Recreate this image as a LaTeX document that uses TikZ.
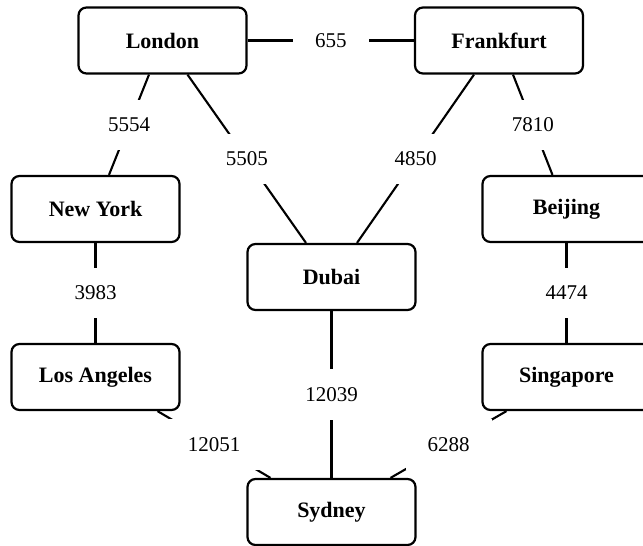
\documentclass[tikz,border=0pt]{standalone}
\usepackage{fontspec}
\setmainfont{Liberation Serif}
\begin{document}
\begin{tikzpicture}[x=0.5pt,y=-0.5pt,
  city/.style={draw, line width=1.1pt, rounded corners=4pt, minimum width=84pt, minimum height=33pt, font=\fontsize{11}{13}\selectfont\bfseries, fill=white},
  lbl/.style={fill=white, inner xsep=11pt, inner ysep=9pt, font=\fontsize{10.5}{12}\selectfont},
  edge/.style={line width=1.05pt}]
\useasboundingbox (0,0) rectangle (643,546);
\begin{scope}
\clip (0,0) rectangle (643,546);
\node[city] (lon) at (162.5,40.5) {London};
\node[city] (fra) at (499,40.5) {Frankfurt};
\node[city] (ny) at (95.5,209) {New York};
\node[city] (bei) at (566.5,209) {Beijing};
\node[city] (dub) at (331.5,277) {Dubai};
\node[city] (la) at (95.5,377) {Los Angeles};
\node[city] (sin) at (566.5,377) {Singapore};
\node[city] (syd) at (331.5,512) {Sydney};

\draw[edge] (lon.east) -- node[lbl]{655} (fra.west);
\draw[edge] ([xshift=-6.75pt]lon.south) -- node[lbl]{5554} ([xshift=6.75pt]ny.north);
\draw[edge] ([xshift=12.5pt]lon.south) -- node[lbl]{5505} ([xshift=-12.75pt]dub.north);
\draw[edge] ([xshift=-12.5pt]fra.south) -- node[lbl]{4850} ([xshift=12.75pt]dub.north);
\draw[edge] ([xshift=7pt]fra.south) -- node[lbl]{7810} ([xshift=-7pt]bei.north);
\draw[edge] (ny.south) -- node[lbl]{3983} (la.north);
\draw[edge] (bei.south) -- node[lbl]{4474} (sin.north);
\draw[edge] (dub.south) -- node[lbl]{12039} (syd.north);
\draw[edge] ([xshift=31pt]la.south) -- node[lbl]{12051} ([xshift=-30.5pt]syd.north);
\draw[edge] ([xshift=-30pt]sin.south) -- node[lbl]{6288} ([xshift=29.5pt]syd.north);
\end{scope}
\end{tikzpicture}
\end{document}
